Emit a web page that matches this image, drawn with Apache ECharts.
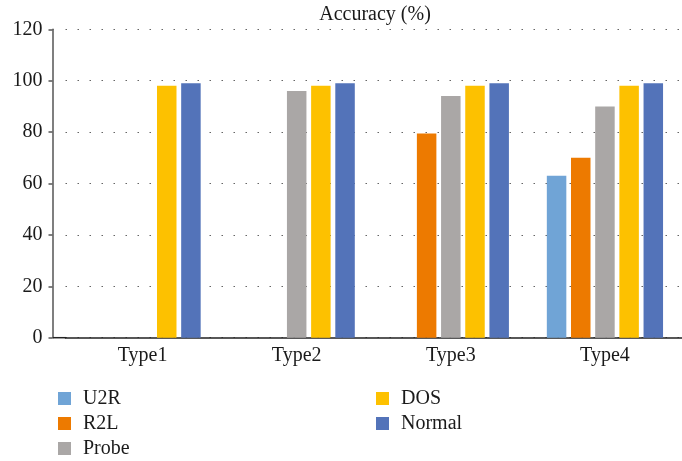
<!DOCTYPE html>
<html><head><meta charset="utf-8">
<script src="https://cdn.jsdelivr.net/npm/echarts@6/dist/echarts.min.js"></script>
<style>html,body{margin:0;padding:0;background:#fff}#c{width:682px;height:461px}</style>
</head><body><div id="c"></div>
<script>
const categories = ['Type1','Type2','Type3','Type4'];
const seriesNames = ['U2R','R2L','Probe','DOS','Normal'];
const u2r    = [0, 0, 0, 63];
const r2l    = [0, 0, 79.5, 70];
const probe  = [0, 96, 94, 90];
const dos    = [98, 98, 98, 98];
const normal = [99, 99, 99, 99];
const yTicks = [0, 20, 40, 60, 80, 100, 120];
const colors = ['#70A4D6','#ED7A00','#AAA7A6','#FDC100','#5373B9'];
const values = [u2r, r2l, probe, dos, normal];
const font = '"Liberation Serif", "DejaVu Serif", serif';

const legendText = { fontFamily: font, fontSize: 20, color: '#1a1a1a', padding: [0,0,0,7] };
const chart = echarts.init(document.getElementById('c'));
chart.setOption({
  animation: false,
  title: { text: 'Accuracy (%)', left: 370, textAlign: 'center', top: 0,
    textStyle: { fontFamily: font, fontSize: 20, fontWeight: 'normal', color: '#1a1a1a' } },
  grid: { left: 65.5, top: 29.3, width: 620, height: 308.4 },
  legend: [
    { data: seriesNames.slice(0,3), orient: 'vertical', left: 53, top: 383.5, height: 90,
      itemWidth: 13, itemHeight: 13, itemGap: 5, icon: 'rect', textStyle: legendText },
    { data: seriesNames.slice(3), orient: 'vertical', left: 371, top: 383.5, height: 90,
      itemWidth: 13, itemHeight: 13, itemGap: 5, icon: 'rect', textStyle: legendText }
  ],
  xAxis: { type: 'category', data: categories,
    axisLine: { lineStyle: { color: '#222', width: 1.5 } },
    axisTick: { show: false },
    axisLabel: { fontFamily: font, fontSize: 20, color: '#1a1a1a', margin: 8 } },
  yAxis: { type: 'value', min: yTicks[0], max: yTicks[yTicks.length-1], interval: 20, offset: 13,
    axisLine: { show: true, lineStyle: { color: '#555', width: 1.5 } },
    axisTick: { show: true, length: 4, lineStyle: { color: '#555', width: 1.5 } },
    axisLabel: { fontFamily: font, fontSize: 20, color: '#1a1a1a', margin: 10 },
    splitLine: { lineStyle: { color: '#666', width: 1.2, type: [1.5, 10.5] } } },
  graphic: [{ type: 'line', shape: { x1: 52.7, y1: 337.7, x2: 66, y2: 337.7 },
    style: { stroke: '#222', lineWidth: 1.5 }, z: 10 }],
  series: seriesNames.map((n, i) => ({
    name: n, type: 'bar', data: values[i],
    itemStyle: { color: colors[i] },
    barWidth: 19.5, barGap: '24%', barCategoryGap: '25%'
  }))
});
</script></body></html>
